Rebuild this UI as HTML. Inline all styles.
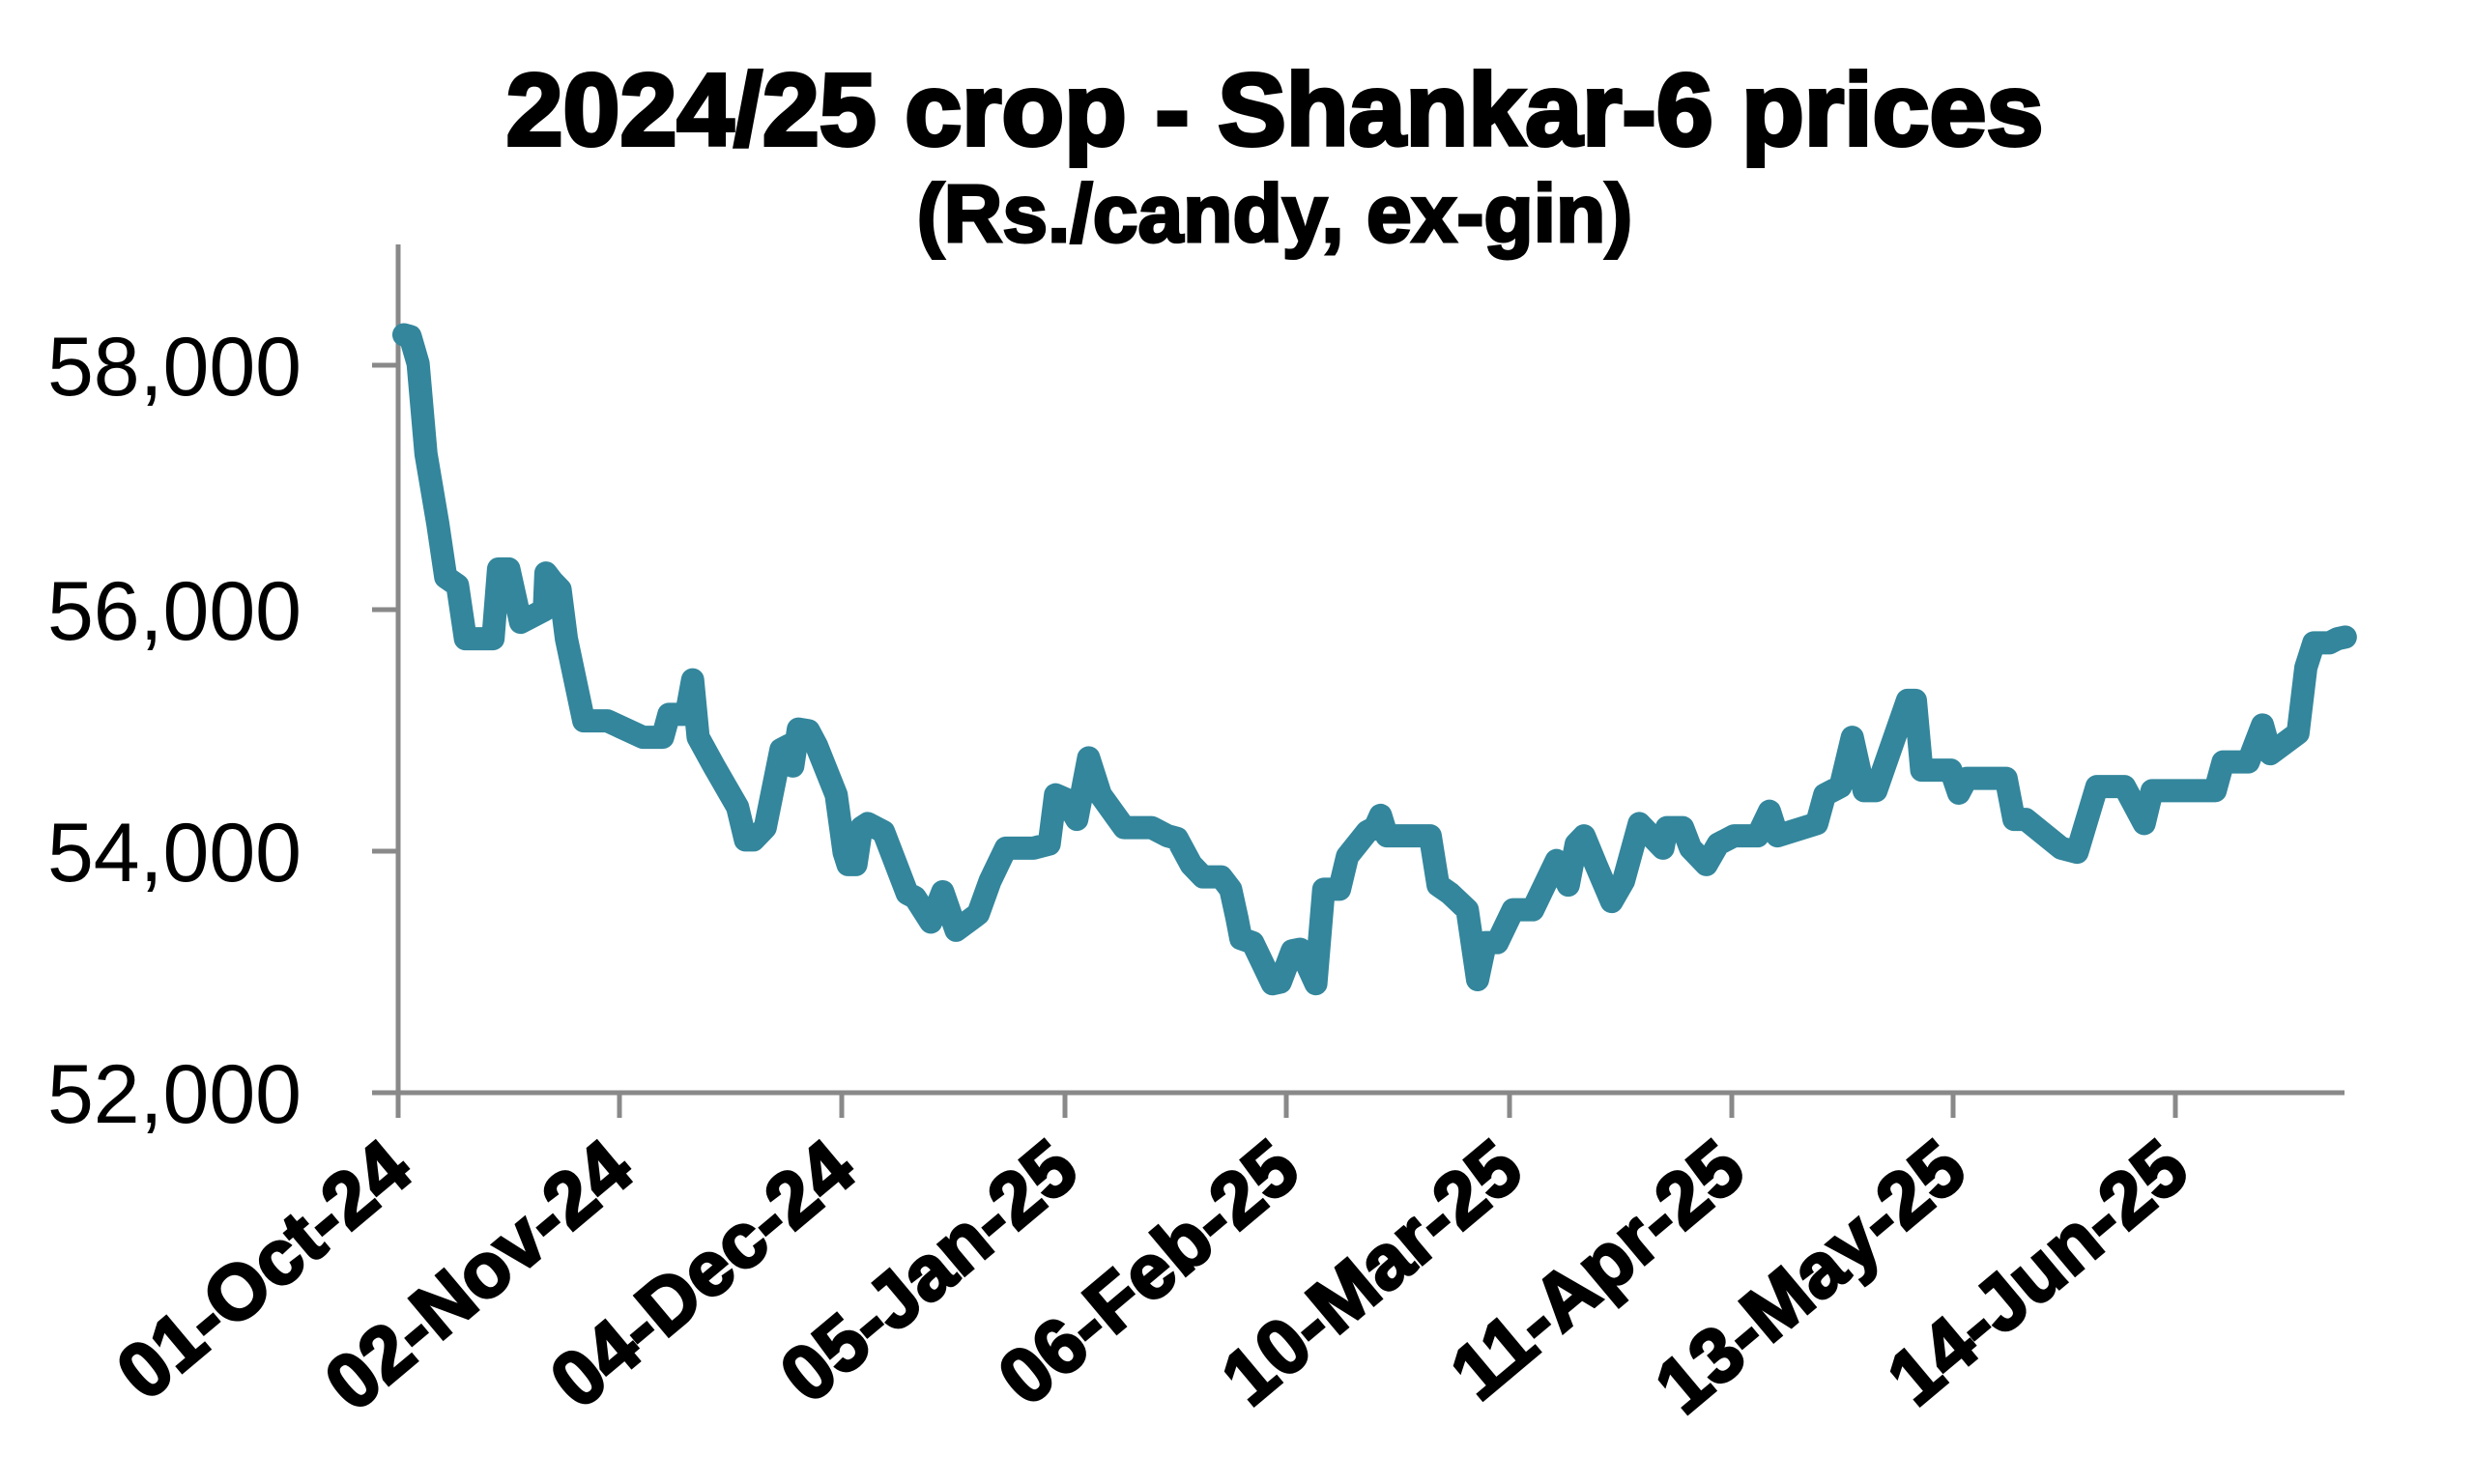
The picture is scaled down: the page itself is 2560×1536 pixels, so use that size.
<!DOCTYPE html>
<html><head><meta charset="utf-8"><style>
html,body{margin:0;padding:0;background:#fff;}
svg{display:block;}
</style></head><body>
<svg width="2560" height="1536" viewBox="0 0 2560 1536" xmlns="http://www.w3.org/2000/svg">
<rect width="2560" height="1536" fill="#fff"/>
<text x="1319" y="150" text-anchor="middle" font-family="Liberation Sans, sans-serif" font-weight="bold" font-size="106" fill="#000" stroke="#000" stroke-width="4">2024/25 crop - Shankar-6 prices</text>
<text x="1319" y="250" text-anchor="middle" font-family="Liberation Sans, sans-serif" font-weight="bold" font-size="84" fill="#000" stroke="#000" stroke-width="3">(Rs./candy, ex-gin)</text>
<g stroke="#898989" stroke-width="5" fill="none">
<line x1="412" y1="253" x2="412" y2="1133"/>
<line x1="385" y1="1131" x2="2426" y2="1131"/>
<line x1="385" y1="378" x2="412" y2="378"/>
<line x1="385" y1="631" x2="412" y2="631"/>
<line x1="385" y1="881" x2="412" y2="881"/>
<line x1="412" y1="1131" x2="412" y2="1157"/>
<line x1="641" y1="1131" x2="641" y2="1157"/>
<line x1="871" y1="1131" x2="871" y2="1157"/>
<line x1="1102" y1="1131" x2="1102" y2="1157"/>
<line x1="1331" y1="1131" x2="1331" y2="1157"/>
<line x1="1562" y1="1131" x2="1562" y2="1157"/>
<line x1="1792" y1="1131" x2="1792" y2="1157"/>
<line x1="2021" y1="1131" x2="2021" y2="1157"/>
<line x1="2251" y1="1131" x2="2251" y2="1157"/>
</g>
<g font-family="Liberation Sans, sans-serif" font-size="86" fill="#000" text-anchor="end">
<text x="312" y="409">58,000</text>
<text x="312" y="662">56,000</text>
<text x="312" y="912">54,000</text>
<text x="312" y="1162">52,000</text>
</g>
<g font-family="Liberation Sans, sans-serif" font-weight="bold" font-size="80" fill="#000" stroke="#000" stroke-width="3" text-anchor="end">
<text transform="translate(430,1218) rotate(-40)">01-Oct-24</text>
<text transform="translate(659,1218) rotate(-40)">02-Nov-24</text>
<text transform="translate(889,1218) rotate(-40)">04-Dec-24</text>
<text transform="translate(1120,1218) rotate(-40)">05-Jan-25</text>
<text transform="translate(1349,1218) rotate(-40)">06-Feb-25</text>
<text transform="translate(1580,1218) rotate(-40)">10-Mar-25</text>
<text transform="translate(1810,1218) rotate(-40)">11-Apr-25</text>
<text transform="translate(2039,1218) rotate(-40)">13-May-25</text>
<text transform="translate(2269,1218) rotate(-40)">14-Jun-25</text>
</g>
<g transform="translate(0,202) scale(0.8163,0.8502)">
<polyline fill="none" stroke="#33869c" stroke-width="24" vector-effect="non-scaling-stroke" stroke-linejoin="round" stroke-linecap="round" points="512,170 520,172 530,205 540,315 555,400 565,465 580,475 590,540 625,540 632,455 645,455 660,520 690,505 692,460 700,470 710,480 718,540 740,640 770,640 815,660 840,660 848,632 870,632 878,590 885,660 905,695 935,745 945,785 955,785 970,770 990,675 1000,670 1005,695 1012,650 1025,652 1035,670 1060,730 1070,800 1075,815 1085,815 1092,770 1100,765 1120,775 1140,825 1150,850 1160,855 1180,885 1195,848 1212,895 1240,875 1255,835 1275,795 1310,795 1330,790 1338,730 1350,735 1365,760 1380,685 1395,730 1425,770 1460,770 1480,780 1492,783 1510,815 1525,830 1548,830 1560,845 1568,880 1573,905 1588,910 1613,960 1623,958 1638,920 1648,918 1668,960 1678,845 1698,845 1708,805 1733,775 1743,770 1750,755 1758,780 1813,780 1823,840 1838,850 1860,870 1873,955 1883,910 1898,910 1918,870 1943,870 1973,810 1988,840 1998,790 2008,780 2023,815 2043,860 2058,835 2078,765 2108,795 2113,770 2133,770 2143,795 2163,815 2178,790 2198,780 2228,780 2243,750 2253,780 2303,765 2313,730 2333,720 2348,660 2363,725 2378,725 2418,615 2428,615 2436,700 2473,700 2483,728 2493,710 2543,710 2553,760 2568,760 2613,795 2633,800 2658,720 2693,720 2718,765 2728,725 2808,725 2818,690 2850,690 2868,645 2878,680 2913,655 2923,575 2933,545 2953,545 2963,540 2973,538"/>
</g>
</svg>
</body></html>
